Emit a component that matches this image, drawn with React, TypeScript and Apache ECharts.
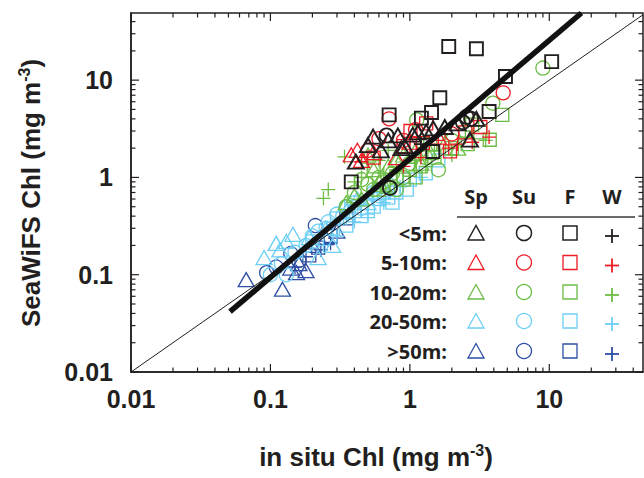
import React, { useEffect, useRef } from "react";
import * as echarts from "echarts";

// ---------- data (in situ Chl, SeaWiFS Chl), mg m^-3 ----------
// depth < 5 m
const spLt5 = [[0.545, 2.63], [0.62, 1.9], [0.82, 2.7], [0.92, 2.1], [1.14, 2.9], [1.47, 3.2], [1.78, 3.3], [3.0, 4.0], [2.7, 2.45], [0.5, 2.15], [1.05, 2.75], [1.31, 2.95], [0.41, 1.45], [0.87, 2.0], [0.7, 2.4], [2.2, 3.6]];
const suLt5 = [[2.55, 4.2], [2.75, 4.0], [0.68, 2.7], [0.72, 0.78], [2.4, 3.7]];
const fLt5 = [[1.9, 22.2], [3.0, 21], [10.4, 15.5], [4.85, 10.9], [1.64, 6.6], [1.43, 4.65], [0.71, 4.4], [3.7, 4.76], [1.21, 4.07], [1.46, 1.85], [0.38, 0.9]];
const wLt5 = [[1.2, 2.2]];
// depth 5-10 m
const sp5to10 = [[0.38, 1.71], [0.45, 1.5], [0.55, 1.8], [1.0, 2.3], [1.6, 2.6], [0.8, 1.6], [0.42, 1.9]];
const su5to10 = [[0.71, 4.0], [4.67, 7.4], [0.6, 2.5], [1.1, 3.1], [2.0, 2.8], [0.5, 1.9], [0.9, 2.4]];
const f5to10 = [[1.01, 3.0], [1.31, 3.6], [1.24, 2.25], [1.94, 1.85], [0.55, 1.6], [2.5, 2.9], [0.9, 2.1], [3.2, 3.3]];
const w5to10 = [[1.6, 2.4], [1.9, 2.0], [2.2, 2.2], [3.7, 2.6], [1.2, 1.6], [0.9, 1.3], [0.45, 1.45], [2.8, 2.3]];
// depth 10-20 m
const sp10to20 = [[0.45, 0.6], [0.6, 0.9], [0.7, 1.3], [0.8, 1.5], [0.9, 1.7], [1.1, 1.9], [1.4, 1.8], [0.55, 1.2], [0.5, 1.7], [1.8, 2.3], [2.2, 2.0], [0.35, 0.55], [0.4, 0.65], [0.65, 0.85], [1.2, 1.4]];
const su10to20 = [[9.0, 13.3], [3.94, 5.8], [1.12, 3.9], [0.4, 0.7], [0.5, 0.85], [0.6, 1.0], [0.75, 1.1], [1.0, 1.4], [1.3, 1.6], [2.0, 2.4], [2.5, 3.0], [0.45, 0.95], [0.8, 0.75], [0.35, 0.5], [1.6, 1.2], [0.55, 0.75], [0.65, 0.9], [0.9, 1.0]];
const f10to20 = [[4.6, 4.4], [3.74, 2.44], [3.2, 2.9], [2.6, 2.2], [2.0, 2.0], [1.5, 1.6], [1.2, 1.3], [1.0, 1.2], [0.9, 0.95], [0.7, 0.8], [0.6, 0.75], [1.4, 2.2], [2.8, 3.5], [0.55, 1.3], [0.8, 1.0], [1.1, 1.0]];
const w10to20 = [[0.34, 1.63], [0.26, 0.75], [0.24, 0.61], [0.5, 1.4], [0.6, 1.5], [0.8, 1.2], [1.1, 1.5], [1.5, 1.9], [2.0, 1.7], [3.5, 2.4], [2.5, 2.6], [0.45, 1.0], [0.7, 1.9], [0.4, 0.9], [0.65, 1.1], [1.3, 1.3]];
// depth 20-50 m
const sp20to50 = [[0.11, 0.21], [0.145, 0.26], [0.117, 0.18], [0.09, 0.15], [0.13, 0.22], [0.19, 0.24], [0.25, 0.3], [0.35, 0.45], [0.22, 0.15], [0.28, 0.2], [0.5, 0.55], [0.42, 0.6]];
const su20to50 = [[0.1, 0.1], [0.12, 0.13], [0.15, 0.17], [0.18, 0.2], [0.22, 0.28], [0.26, 0.35], [0.3, 0.42], [0.35, 0.5], [0.4, 0.55], [0.55, 0.7], [0.7, 0.85], [0.9, 1.0], [0.45, 0.48], [0.13, 0.1], [0.25, 0.3], [0.33, 0.4], [0.6, 0.65], [0.2, 0.25]];
const f20to50 = [[0.2, 0.22], [0.28, 0.3], [0.35, 0.32], [0.45, 0.4], [0.55, 0.5], [0.6, 0.6], [0.75, 0.55], [0.8, 0.7], [1.0, 0.95], [1.3, 1.1], [1.6, 1.5], [0.5, 0.45], [0.3, 0.38], [0.4, 0.45], [0.65, 0.7], [0.7, 0.62], [0.38, 0.5], [0.95, 0.75]];
const w20to50 = [[0.17, 0.17], [0.24, 0.2], [0.3, 0.25], [0.4, 0.35], [0.5, 0.42], [0.65, 0.55], [0.85, 0.8], [1.2, 1.0], [0.35, 0.38], [0.55, 0.6], [0.7, 0.7]];
// depth > 50 m
const spGt50 = [[0.067, 0.089], [0.122, 0.071], [0.154, 0.105], [0.14, 0.117], [0.16, 0.13], [0.2, 0.2], [0.25, 0.24], [0.18, 0.11], [0.3, 0.28]];
const suGt50 = [[0.094, 0.105], [0.21, 0.32], [0.14, 0.165], [0.16, 0.14], [0.11, 0.12]];
const fGt50 = [[0.19, 0.158], [0.22, 0.19], [0.27, 0.25], [0.35, 0.38]];
const wGt50 = [[0.18, 0.153], [0.27, 0.21], [0.23, 0.18], [0.15, 0.12]];

// 1:1 line and regression line end points
const oneToOne = [[0.01, 0.01], [47, 47]];
const regression = [[0.0513, 0.0417], [17, 49]];

const depthLabels = ["<5m:", "5-10m:", "10-20m:", "20-50m:", ">50m:"];
const seasonLabels = ["Sp", "Su", "F", "W"];
const depthColors = ["#231f20", "#ed1c24", "#6cbd45", "#6dcff6", "#2e4fa3"];
const groups = [
  [spLt5, suLt5, fLt5, wLt5],
  [sp5to10, su5to10, f5to10, w5to10],
  [sp10to20, su10to20, f10to20, w10to20],
  [sp20to50, su20to50, f20to50, w20to50],
  [spGt50, suGt50, fGt50, wGt50],
];

const X_MIN = 0.01, X_MAX = 47, Y_MIN = 0.01, Y_MAX = 49;
const AX = "#231f20";
const PLUS = "path://M5 0 L5 10 M0 5 L10 5";
const seasonSymbols = ["triangle", "circle", "rect", PLUS];
const seasonSizes: any[] = [[16, 14], 14, 13, 14];

function tickList(max: number) {
  const out: number[][] = [];
  for (const d of [0.01, 0.1, 1, 10]) {
    for (let k = 1; k <= 9; k++) {
      const v = parseFloat((d * k).toPrecision(3));
      if (v <= max) out.push([v, k === 1 ? 1 : 0]);
    }
  }
  return out;
}

export default function App() {
  const ref = useRef<HTMLDivElement>(null);
  useEffect(() => {
    const chart = echarts.init(ref.current!, undefined, { renderer: "svg" });
    const series: any[] = [];
    for (let d = groups.length - 1; d >= 0; d--) {
      for (let s = 0; s < 4; s++) {
        const isBlack = d === 0;
        series.push({
          name: depthLabels[d] + seasonLabels[s],
          type: "scatter",
          data: groups[d][s],
          symbol: seasonSymbols[s],
          symbolSize: seasonSizes[s],
          symbolKeepAspect: true,
          itemStyle: {
            color: "transparent",
            borderColor: depthColors[d],
            borderWidth: isBlack ? 1.9 : 1.3,
            opacity: 1,
          },
          z: 2,
        });
      }
    }
    series.push({
      type: "line",
      data: oneToOne,
      symbol: "none",
      lineStyle: { color: AX, width: 1 },
      z: 3,
    });
    series.push({
      type: "line",
      data: regression,
      symbol: "none",
      lineStyle: { color: "#111", width: 5.5, cap: "butt" },
      z: 4,
    });
    const xTicks = tickList(X_MAX).map((t) => [t[0], 0, t[1]]);
    const yTicks = tickList(Y_MAX).map((t) => [t[0], 1, t[1]]);
    series.push({
      type: "custom",
      data: [...xTicks, ...yTicks],
      encode: { x: 0, y: 0 },
      clip: false,
      z: 5,
      silent: true,
      renderItem: (params: any, api: any) => {
        const v = api.value(0);
        const kind = api.value(1);
        const major = api.value(2);
        const cs = params.coordSys;
        const len = major ? 8 : 4.5;
        const st = { stroke: AX, lineWidth: 1.2 };
        if (kind === 0) {
          const px = api.coord([v, Y_MIN])[0];
          return {
            type: "group",
            children: [
              { type: "line", shape: { x1: px, y1: cs.y + cs.height, x2: px, y2: cs.y + cs.height - len }, style: st },
              { type: "line", shape: { x1: px, y1: cs.y, x2: px, y2: cs.y + len }, style: st },
            ],
          };
        }
        const py = api.coord([X_MIN, v])[1];
        return {
          type: "group",
          children: [
            { type: "line", shape: { x1: cs.x, y1: py, x2: cs.x + len, y2: py }, style: st },
            { type: "line", shape: { x1: cs.x + cs.width, y1: py, x2: cs.x + cs.width - len, y2: py }, style: st },
          ],
        };
      },
    });

    // legend table
    const colX = [476, 524, 570, 612];
    const rowY = [233, 262.5, 292, 321, 351];
    const legendFont = "'Open Sans', 'Liberation Sans', sans-serif";
    const graphics: any[] = [];
    seasonLabels.forEach((t, i) => {
      graphics.push({
        type: "text",
        x: colX[i],
        y: 196,
        style: { text: t, fontFamily: legendFont, fontWeight: "bold", fontSize: 20, fill: AX, textAlign: "center", textVerticalAlign: "middle" },
      });
    });
    graphics.push({ type: "line", shape: { x1: 457, y1: 217, x2: 635, y2: 217 }, style: { stroke: "#3a3a3a", lineWidth: 1.5 } });
    depthLabels.forEach((t, r) => {
      const cy = rowY[r];
      const c = depthColors[r];
      const lw = r === 0 ? 1.5 : 1.3;
      graphics.push({
        type: "text",
        x: 447,
        y: cy,
        style: { text: t, fontFamily: legendFont, fontWeight: "bold", fontSize: 20, fill: AX, textAlign: "right", textVerticalAlign: "middle" },
      });
      graphics.push({ type: "polygon", shape: { points: [[colX[0], cy - 7.5], [colX[0] - 8, cy + 7], [colX[0] + 8, cy + 7]] }, style: { fill: "none", stroke: c, lineWidth: lw } });
      graphics.push({ type: "circle", shape: { cx: colX[1], cy, r: 7.5 }, style: { fill: "none", stroke: c, lineWidth: lw } });
      graphics.push({ type: "rect", shape: { x: colX[2] - 7, y: cy - 7, width: 14, height: 14 }, style: { fill: "none", stroke: c, lineWidth: lw } });
      graphics.push({ type: "line", shape: { x1: colX[3] - 7, y1: cy + 3, x2: colX[3] + 7, y2: cy + 3 }, style: { stroke: c, lineWidth: 1.8 } });
      graphics.push({ type: "line", shape: { x1: colX[3], y1: cy - 4, x2: colX[3], y2: cy + 10 }, style: { stroke: c, lineWidth: 1.8 } });
    });
    const titleFont = "'Liberation Sans', Arial, sans-serif";
    const rich = {
      a: { fontFamily: titleFont, fontWeight: "bold", fontSize: 26, fill: AX, color: AX, lineHeight: 30 },
      s: { fontFamily: titleFont, fontWeight: "bold", fontSize: 16, fill: AX, color: AX, verticalAlign: "top", lineHeight: 30 },
    };
    graphics.push({
      type: "text",
      x: 376,
      y: 457,
      style: { text: "{a|in situ Chl (mg m}{s|-3}{a|)}", rich, textAlign: "center", textVerticalAlign: "middle" },
    });
    graphics.push({
      type: "text",
      x: 31,
      y: 193,
      rotation: Math.PI / 2,
      style: { text: "{a|SeaWiFS Chl (mg m}{s|-3}{a|)}", rich, textAlign: "center", textVerticalAlign: "middle" },
    });

    const fmt = (v: number) => String(parseFloat(Number(v).toPrecision(2)));
    const labelStyle = { fontFamily: titleFont, fontWeight: "bold", fontSize: 25, color: AX };

    chart.setOption({
      animation: false,
      grid: { left: 131, top: 13, right: 1, bottom: 106, show: true, borderColor: AX, borderWidth: 1.5, backgroundColor: "transparent" },
      xAxis: {
        type: "log",
        logBase: 10,
        min: X_MIN,
        max: X_MAX,
        axisLine: { show: true, onZero: false, lineStyle: { color: AX, width: 1.5 } },
        axisTick: { show: false },
        splitLine: { show: false },
        axisLabel: { ...labelStyle, margin: 14, formatter: fmt, showMaxLabel: false, showMinLabel: true },
      },
      yAxis: {
        type: "log",
        logBase: 10,
        min: Y_MIN,
        max: Y_MAX,
        axisLine: { show: true, onZero: false, lineStyle: { color: AX, width: 1.5 } },
        axisTick: { show: false },
        splitLine: { show: false },
        axisLabel: { ...labelStyle, margin: 18, formatter: fmt, showMaxLabel: false, showMinLabel: true },
      },
      graphic: graphics,
      series,
    });
    return () => chart.dispose();
  }, []);
  return <div ref={ref} style={{ position: "fixed", left: 0, top: 0, width: 644, height: 478, background: "#fff" }} />;
}
